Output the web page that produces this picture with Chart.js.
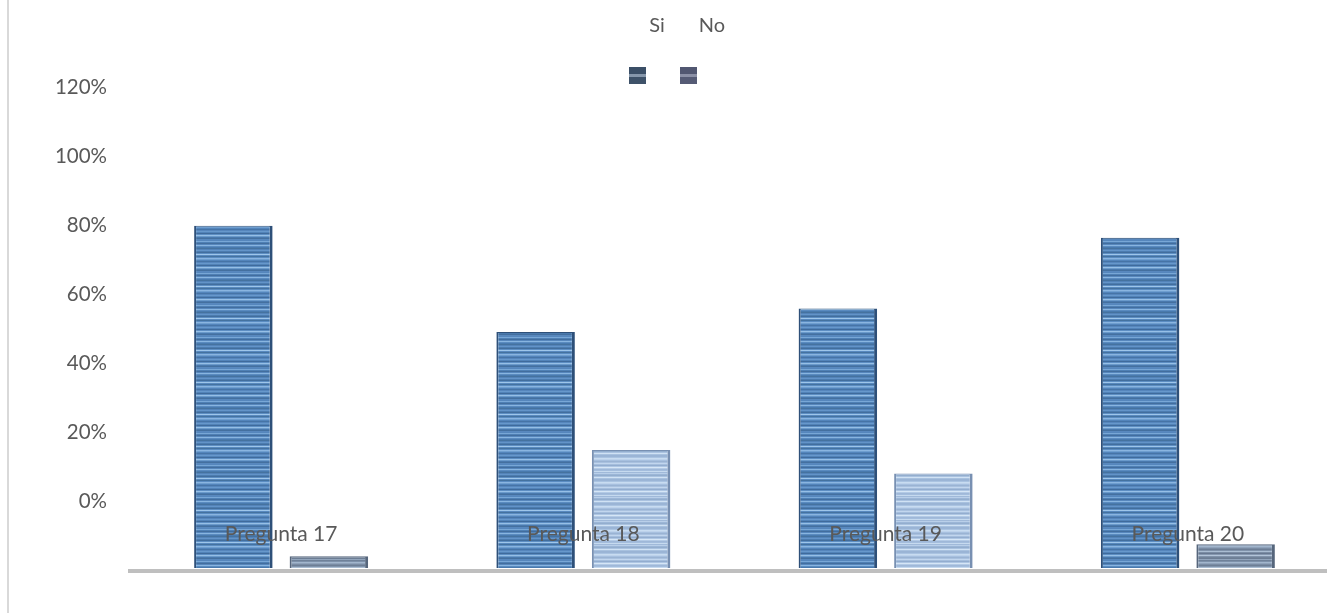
<!DOCTYPE html>
<html>
<head>
<meta charset="utf-8">
<script src="https://cdn.jsdelivr.net/npm/chart.js@4/dist/chart.umd.min.js"></script>
<style>
  html, body { margin: 0; padding: 0; background: #ffffff; overflow: hidden; }
  #wrap { position: relative; width: 1327px; height: 613px; overflow: hidden; }
  #edge { position: absolute; left: 7px; top: 0; width: 2px; height: 613px; background: #d9d9d9; z-index: 2; }
  #c { position: absolute; left: 0; top: 0; }
  .lg-text { position: absolute; transform: translate(-50%, -50%); font: 20px Lato, sans-serif; color: #595959; line-height: 1; white-space: nowrap; }
  .lg-box { position: absolute; width: 17px; height: 17px; }
</style>
</head>
<body>
<div id="wrap">
  <canvas id="c" width="1345" height="613"></canvas>
  <div id="edge"></div>
  <div id="legend"></div>
</div>
<script>
// ---- data ----
const categories = ['Pregunta 17', 'Pregunta 18', 'Pregunta 19', 'Pregunta 20'];
const seriesNames = ['Si', 'No'];
const siValues = [96.7, 66.7, 73.3, 93.3];
const noValues = [3.3, 33.3, 26.7, 6.7];
const yTickValues = [0, 20, 40, 60, 80, 100, 120];

// ---- striped fills ----
function stripePattern(rows) {
  const cv = document.createElement('canvas');
  cv.width = 4; cv.height = rows.length;
  const g = cv.getContext('2d');
  rows.forEach((col, i) => { g.fillStyle = col; g.fillRect(0, i, 4, 1); });
  return g.createPattern(cv, 'repeat');
}
const siRows = ['#44729f','#5a8cc2','#8ab5e0','#6e9ecf','#5384bb','#4674a6','#5686bd','#6798cb',
                '#5283b9','#3f6b9c','#5d8ec3','#96bfe6','#6a9acb','#4a79ad','#44709f','#5888be',
                '#5687bd','#78a7d6','#4f80b5','#426e9e','#5787bd','#88b5e0','#5a8bc0','#497aae',
                '#45729f','#5383b9','#6394c8','#4c7cb0','#426e9d','#5d8ec3','#9ec6ea','#5889bf'];
const lightRows = ['#9bb5d6','#aac3e1','#c8dcf1','#bdd2eb','#a7c0df','#9ab3d3','#a9c1df','#c2d6ee',
                   '#a5bedd','#93adcf','#aec6e3','#d6e6f6','#b3cae6','#9fb8d8','#a4bddd','#c6daef',
                   '#a0b9d9','#b9cfe9','#9cb6d7','#93aece','#aac2e0','#d0e2f4','#a8c1df','#9ab4d5'];
const grayRows = ['#6f8199','#7d90a9','#a2b6cd','#8fa2ba','#7a8ca4','#6d7e95','#8093ab','#aabdd2',
                  '#7b8da5','#677890','#8597af','#b3c5d9','#8193ab','#718399','#6c7d94','#92a5bc'];
const siFill = stripePattern(siRows);
const lightFill = stripePattern(lightRows);
const grayFill = stripePattern(grayRows);
const noFills = [grayFill, lightFill, lightFill, grayFill];
const noBorders = ['#56667c', '#7890b2', '#7890b2', '#56667c'];

Chart.defaults.font.family = 'Lato, sans-serif';
Chart.defaults.color = '#595959';

const chart = new Chart(document.getElementById('c'), {
  type: 'bar',
  data: {
    labels: categories,
    datasets: [
      {
        label: seriesNames[0],
        data: siValues,
        backgroundColor: siFill,
        borderColor: '#2e5079',
        borderWidth: { left: 2, right: 3, top: 1, bottom: 0 },
        borderSkipped: false,
        yAxisID: 'yb',
        categoryPercentage: 0.632, barPercentage: 0.822
      },
      {
        label: seriesNames[1],
        data: noValues,
        backgroundColor: noFills,
        borderColor: noBorders,
        borderWidth: { left: 2, right: 3, top: 1, bottom: 0 },
        borderSkipped: false,
        yAxisID: 'yb',
        categoryPercentage: 0.632, barPercentage: 0.822
      }
    ]
  },
  options: {
    responsive: false,
    devicePixelRatio: 1,
    animation: false,
    layout: { padding: { top: 20, left: 0, right: 6, bottom: 0 } },
    plugins: { legend: { display: false }, tooltip: { enabled: false } },
    scales: {
      x: {
        type: 'category',
        position: 'bottom',
        offset: true,
        afterFit: s => { s.height = 42; },
        ticks: {
          z: 1,
          mirror: true,
          autoSkip: false, maxRotation: 0, minRotation: 0,
          padding: 24,
          color: '#595959',
          font: { size: 21 }
        },
        grid: { display: false, drawTicks: false },
        border: { display: true, color: '#bfbfbf', width: 4, z: 1 }
      },
      y: {
        type: 'linear',
        position: 'left',
        min: -20, max: 139.4,
        afterBuildTicks: s => { s.ticks = yTickValues.map(v => ({ value: v })); },
        afterFit: s => { s.width = 130; s.paddingTop = 0; s.paddingBottom = 0; },
        ticks: {
          padding: 23,
          color: '#595959',
          font: { size: 20.5 },
          callback: v => v + '%'
        },
        grid: { display: false, drawTicks: false },
        border: { display: false }
      },
      yb: {
        type: 'linear',
        display: false,
        min: -0.847, max: 154.8
      }
    }
  }
});

// ---- legend (labels above their markers) ----
const legend = document.getElementById('legend');
const lgX = [657, 712];
const boxX = [629, 680];
const boxBg = [
  'linear-gradient(#3b4f67 0 40%, #8697ab 40% 58%, #3e5269 58% 100%)',
  'linear-gradient(#515771 0 40%, #8b90a6 40% 58%, #555b75 58% 100%)'
];
seriesNames.forEach((name, i) => {
  const t = document.createElement('div');
  t.className = 'lg-text';
  t.textContent = name;
  t.style.left = lgX[i] + 'px';
  t.style.top = '24px';
  legend.appendChild(t);
  const b = document.createElement('div');
  b.className = 'lg-box';
  b.style.left = boxX[i] + 'px';
  b.style.top = '67px';
  b.style.background = boxBg[i];
  legend.appendChild(b);
});
</script>
</body>
</html>
